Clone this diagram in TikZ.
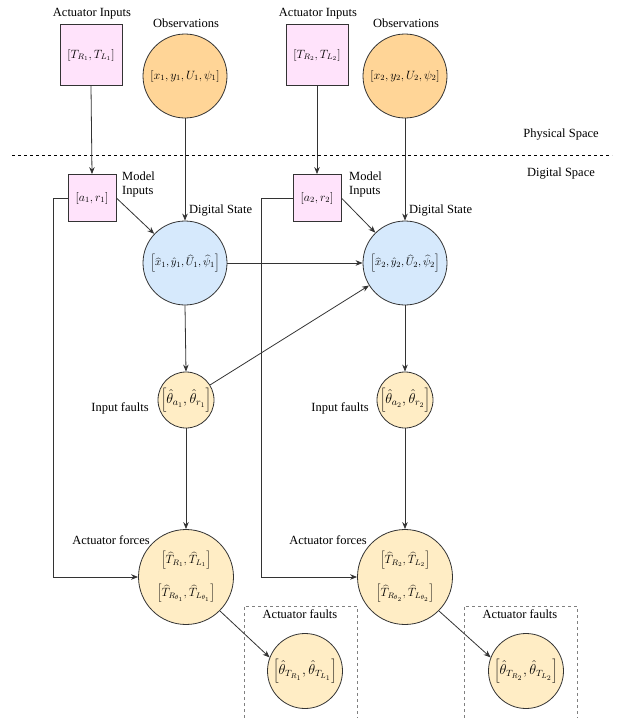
\documentclass[tikz,border=0pt]{standalone}
\usepackage{fontspec}
\setmainfont{Liberation Serif}
\usetikzlibrary{arrows.meta}
\definecolor{pinkfill}{HTML}{FFE3FB}
\definecolor{obsfill}{HTML}{FFD597}
\definecolor{dsfill}{HTML}{D6E9FC}
\definecolor{faultfill}{HTML}{FFEDC5}
\definecolor{edge}{HTML}{333333}
\begin{document}
\begin{tikzpicture}[x=1pt,y=-1pt,
  lbl/.style={font=\fontsize{12.5}{14}\selectfont, inner sep=0pt},
  sqbox/.style={draw=edge, line width=0.8pt, fill=pinkfill, inner sep=0pt},
  circ/.style={circle, draw=edge, line width=0.8pt, inner sep=0pt},
  arr/.style={draw=edge, line width=0.8pt, -{Stealth[length=7pt,width=5.5pt]}},
  mathA/.style={font=\fontsize{12}{14}\selectfont},
  mathB/.style={font=\fontsize{11.5}{13}\selectfont},
  mathC/.style={font=\fontsize{10.8}{12}\selectfont},
]
\useasboundingbox (0,0) rectangle (618,718);

% separator
\draw[dashed, line width=0.6pt] (12,155) -- (612,155);
\node[lbl] (phys) at (561,135) {Physical Space};
\node[lbl] (dig) at (561,174) {Digital Space};

% dashed boxes
\draw[dashed, draw=gray, line width=0.6pt] (244,718) -- (244,606) -- (357,606) -- (357,718);
\draw[dashed, draw=gray, line width=0.6pt] (464,718) -- (464,606) -- (577,606) -- (577,718);

% ---------- column 1 ----------
\node[lbl] (ail1) at (92,14) {Actuator Inputs};
\node[sqbox, minimum width=62pt, minimum height=61pt, mathA] (ai1) at (91,55) {$[T_{R_1},T_{L_1}]$};
\node[lbl] (obl1) at (186,23) {Observations};
\node[circ, fill=obsfill, minimum size=84pt, mathA] (obs1) at (185,76) {$[x_1,y_1,U_1,\psi_1]$};
\node[sqbox, minimum width=48pt, minimum height=47pt, mathB] (mi1) at (92,198) {$[a_1,r_1]$};
\node[lbl, anchor=west, align=left] (mil1) at (122,184) {Model\\Inputs};
\node[circ, fill=dsfill, minimum size=84pt, mathC] (ds1) at (185,263) {$\left[\widehat{x}_1,\hat{y}_1,\widehat{U}_1,\widehat{\psi}_1\right]$};
\node[lbl, anchor=west] (dsl1) at (189,211) {Digital State};
\node[circ, fill=faultfill, minimum size=56pt, font=\fontsize{14}{16}\selectfont] (if1) at (186,400) {$\left[\hat{\theta}_{a_1}{,}\,\hat{\theta}_{r_1}\right]$};
\node[lbl] (ifl1) at (120,408) {Input faults};
\node[circ, fill=faultfill, minimum size=95pt, align=center, font=\fontsize{11.5}{13}\selectfont] (af1) at (186,577) {$\left[\widehat{T}_{R_1},\widehat{T}_{L_1}\right]$\\[14pt]$\left[\widehat{T}_{R_{\theta_1}},\widehat{T}_{L_{\theta_1}}\right]$};
\node[lbl] (afl1) at (111,540) {Actuator forces};
\node[lbl] (fal1) at (300,614) {Actuator faults};
\node[circ, fill=faultfill, minimum size=75pt, font=\fontsize{13.5}{15}\selectfont] (fa1) at (305,671) {$\left[\hat{\theta}_{T_{R_1}},\hat{\theta}_{T_{L_1}}\right]$};

% ---------- column 2 ----------
\node[lbl] (ail2) at (318,14) {Actuator Inputs};
\node[sqbox, minimum width=62pt, minimum height=61pt, mathA] (ai2) at (317,55) {$[T_{R_2},T_{L_2}]$};
\node[lbl] (obl2) at (406,23) {Observations};
\node[circ, fill=obsfill, minimum size=84pt, mathA] (obs2) at (405,76) {$[x_2,y_2,U_2,\psi_2]$};
\node[sqbox, minimum width=48pt, minimum height=47pt, mathB] (mi2) at (317,198) {$[a_2,r_2]$};
\node[lbl, anchor=west, align=left] (mil2) at (349,184) {Model\\Inputs};
\node[circ, fill=dsfill, minimum size=84pt, mathC] (ds2) at (405,263) {$\left[\widehat{x}_2,\hat{y}_2,\widehat{U}_2,\widehat{\psi}_2\right]$};
\node[lbl, anchor=west] (dsl2) at (409,211) {Digital State};
\node[circ, fill=faultfill, minimum size=56pt, font=\fontsize{14}{16}\selectfont] (if2) at (405,400) {$\left[\hat{\theta}_{a_2}{,}\,\hat{\theta}_{r_2}\right]$};
\node[lbl] (ifl2) at (340,408) {Input faults};
\node[circ, fill=faultfill, minimum size=95pt, align=center, font=\fontsize{11.5}{13}\selectfont] (af2) at (405,577) {$\left[\widehat{T}_{R_2},\widehat{T}_{L_2}\right]$\\[14pt]$\left[\widehat{T}_{R_{\theta_2}},\widehat{T}_{L_{\theta_2}}\right]$};
\node[lbl] (afl2) at (328,540) {Actuator forces};
\node[lbl] (fal2) at (520,614) {Actuator faults};
\node[circ, fill=faultfill, minimum size=75pt, font=\fontsize{13.5}{15}\selectfont] (fa2) at (526,671) {$\left[\hat{\theta}_{T_{R_2}},\hat{\theta}_{T_{L_2}}\right]$};

% bend coordinates
\coordinate (b1) at (53,0);
\coordinate (b2) at (261,0);

% ---------- connectors ----------
\draw[arr] (ai1.south) -- (mi1.north);
\draw[arr] (obs1.south) -- (ds1.north);
\draw[arr] (mi1.east) -- (ds1);
\draw[arr] (mi1.west) -- (mi1.west -| b1) -- (af1.west -| b1) -- (af1.west);
\draw[arr] (ds1.east) -- (ds2.west);
\draw[arr] (ds1.south) -- (if1.north);
\draw[arr] (if1) -- (ds2);
\draw[arr] (if1.south) -- (af1.north);
\draw[arr] (af1.south east) -- (fa1.159);

\draw[arr] (ai2.south) -- (mi2.north);
\draw[arr] (obs2.south) -- (ds2.north);
\draw[arr] (mi2.east) -- (ds2);
\draw[arr] (mi2.west) -- (mi2.west -| b2) -- (af2.west -| b2) -- (af2.west);
\draw[arr] (ds2.south) -- (if2.north);
\draw[arr] (if2.south) -- (af2.north);
\draw[arr] (af2.south east) -- (fa2.159);
\end{tikzpicture}
\end{document}
